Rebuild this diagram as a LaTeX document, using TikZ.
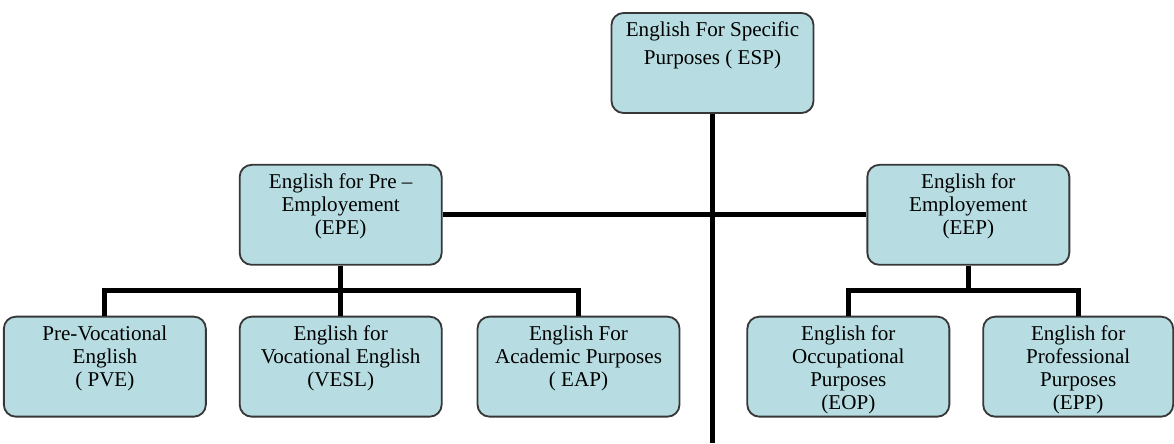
\documentclass[tikz,border=0pt]{standalone}
\usepackage{fontspec}
\setmainfont{Liberation Serif}
\usetikzlibrary{positioning}
\definecolor{boxfill}{RGB}{183,221,226}
\definecolor{boxline}{RGB}{55,55,55}
\tikzset{topic box/.style={rectangle,rounded corners=0.3cm,draw=boxline,line width=1.3pt,fill=boxfill,inner sep=0pt},
         link/.style={line width=3.4pt},}
\newcommand{\boxtext}[2][5.05cm]{\parbox[c][2.5cm][t]{#1}{\centering\fontsize{15}{16.5}\selectfont\vspace*{0.22cm}#2}}

\begin{document}
\begin{tikzpicture}
          \useasboundingbox (0,0) rectangle (29.35,-11.075);
          \node[topic box] (esp) at (17.8125,-1.575) {\boxtext{English For Specific\\[3pt]Purposes ( ESP)}};
          \node[topic box] (epe) [below left = 1.25cm and 4.2cm of esp] {\boxtext{English for Pre --\\Employement\\(EPE)}};
          \node[topic box] (eep) [below right = 1.25cm and 1.3cm of esp] {\boxtext{English for\\Employement\\(EEP)}};
          \node[topic box] (vesl) [below = 1.25cm of epe] {\boxtext{English for\\Vocational English\\(VESL)}};
          \node[topic box] (pve) [left = 0.8cm of vesl] {\boxtext{Pre-Vocational\\English\\( PVE)}};
          \node[topic box] (eap) [right = 0.85cm of vesl] {\boxtext{English For\\Academic Purposes\\( EAP)}};
          \node[topic box] (eop) [below = 1.25cm of eep, xshift=-3cm] {\boxtext{English for\\Occupational\\Purposes\\(EOP)}};
          \node[topic box] (epp) [right = 0.8cm of eop] {\boxtext[4.75cm]{English for\\Professional\\Purposes\\(EPP)}};

          \coordinate (espfoot) at (17.8125,-11.075);
          \path (epe.south) -- (vesl.north) coordinate[midway] (lbus);
          \path (eep.south) -- (eep.south |- eop.north) coordinate[midway] (rbus);

          \draw[link] (esp.south) -- (espfoot);
          \draw[link] (epe.east) -- (eep.west);
          \draw[link] (epe.south) -- (vesl.north);
          \draw[link] (pve.north) |- (lbus) -| (eap.north);
          \draw[link] (eep.south) -- (rbus);
          \draw[link] (eop.north) |- (rbus) -| (epp.north);
        \end{tikzpicture}
\end{document}
